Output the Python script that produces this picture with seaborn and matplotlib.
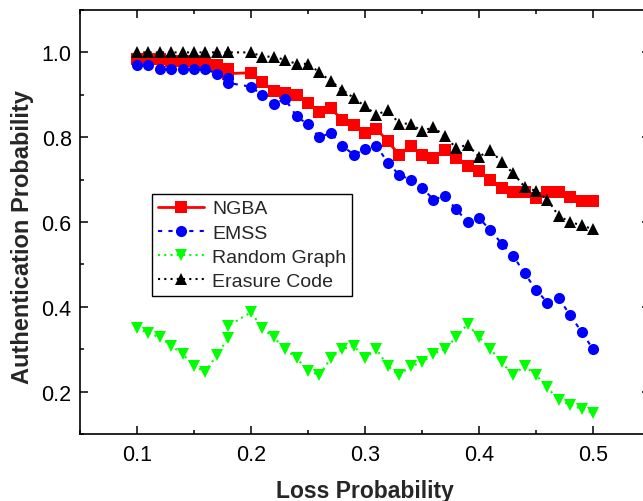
import pandas as pd
import matplotlib
matplotlib.use("Agg")
import matplotlib.pyplot as plt
import seaborn as sns
from matplotlib.ticker import MultipleLocator, FormatStrFormatter

# loss probability (the source data repeats 0.18 where 0.19 would be)
loss = [0.10, 0.11, 0.12, 0.13, 0.14, 0.15, 0.16, 0.17, 0.18, 0.18,
        0.20, 0.21, 0.22, 0.23, 0.24, 0.25, 0.26, 0.27, 0.28, 0.29,
        0.30, 0.31, 0.32, 0.33, 0.34, 0.35, 0.36, 0.37, 0.38, 0.39,
        0.40, 0.41, 0.42, 0.43, 0.44, 0.45, 0.46, 0.47, 0.48, 0.49, 0.50]

ngba = [0.985, 0.985, 0.985, 0.98, 0.98, 0.98, 0.973, 0.971, 0.961, 0.95,
        0.952, 0.929, 0.91, 0.904, 0.90, 0.881, 0.859, 0.869, 0.84, 0.828,
        0.809, 0.82, 0.79, 0.759, 0.779, 0.759, 0.751, 0.769, 0.751, 0.732,
        0.72, 0.70, 0.679, 0.67, 0.67, 0.657, 0.67, 0.67, 0.66, 0.65, 0.65]

emss = [0.971, 0.97, 0.96, 0.96, 0.96, 0.96, 0.96, 0.95, 0.94, 0.928,
        0.919, 0.899, 0.879, 0.89, 0.849, 0.83, 0.80, 0.81, 0.78, 0.759,
        0.771, 0.78, 0.74, 0.711, 0.70, 0.681, 0.653, 0.661, 0.63, 0.60,
        0.61, 0.58, 0.549, 0.52, 0.479, 0.44, 0.41, 0.42, 0.38, 0.341, 0.30]

random_graph = [0.349, 0.338, 0.328, 0.308, 0.289, 0.26, 0.247, 0.286, 0.326, 0.355,
                0.387, 0.349, 0.328, 0.30, 0.279, 0.249, 0.239, 0.279, 0.30, 0.308,
                0.279, 0.30, 0.26, 0.239, 0.26, 0.269, 0.289, 0.30, 0.328, 0.359,
                0.328, 0.30, 0.269, 0.239, 0.26, 0.239, 0.21, 0.179, 0.169, 0.159, 0.15]

erasure = [1.0, 1.0, 1.0, 1.0, 1.0, 1.0, 1.0, 1.0, 1.0, 1.0,
           1.0, 0.99, 0.99, 0.982, 0.973, 0.973, 0.953, 0.932, 0.912, 0.893,
           0.873, 0.853, 0.864, 0.832, 0.832, 0.814, 0.824, 0.802, 0.775, 0.782,
           0.754, 0.77, 0.741, 0.715, 0.683, 0.673, 0.653, 0.614, 0.60, 0.592, 0.583]

sns.set_style("ticks")
plt.rcParams['font.family'] = ['Liberation Sans', 'DejaVu Sans']

fig = plt.figure(figsize=(6.43, 5.02), dpi=100)
ax = fig.add_axes([0.1244, 0.1335, 0.8865, 0.8446])

series = [
    ("NGBA", ngba, "#ff0000", "s", "-", 2.0),
    ("EMSS", emss, "#0000ff", "o", (0, (2, 3)), 1.5),
    ("Random Graph", random_graph, "#00ff00", "v", (0, (1, 2)), 1.5),
    ("Erasure Code", erasure, "black", "^", (0, (1, 2)), 1.5),
]

for name, vals, col, mk, ls, lw in series:
    sns.lineplot(x=loss, y=vals, ax=ax, estimator=None, sort=False,
                 color=col, marker=mk, linestyle=ls, linewidth=lw,
                 markersize=8, markeredgecolor=col, markeredgewidth=0,
                 label=name)

ax.set_xlim(0.05, 0.55)
ax.set_ylim(0.1, 1.1)
ax.xaxis.set_major_locator(MultipleLocator(0.1))
ax.xaxis.set_minor_locator(MultipleLocator(0.05))
ax.yaxis.set_major_locator(MultipleLocator(0.2))
ax.yaxis.set_minor_locator(MultipleLocator(0.1))
ax.xaxis.set_major_formatter(FormatStrFormatter('%.1f'))
ax.yaxis.set_major_formatter(FormatStrFormatter('%.1f'))
ax.set_yticks([0.2, 0.4, 0.6, 0.8, 1.0])

ax.tick_params(which='both', direction='in', top=True, right=True, width=1.1, colors='black')
ax.tick_params(which='major', length=6)
ax.tick_params(which='minor', length=3)
ax.tick_params(axis='x', which='major', labelsize=15.5, pad=7)
ax.tick_params(axis='y', which='major', labelsize=15.5, pad=6)
for sp in ax.spines.values():
    sp.set_linewidth(1.2)
    sp.set_color('black')

ax.set_xlabel("Loss Probability", fontsize=16.5, fontweight='bold', labelpad=10)
ax.set_ylabel("Authentication Probability", fontsize=17, fontweight='bold')
ax.yaxis.set_label_coords(-0.08, 0.467)

leg = ax.legend(loc='upper left', bbox_to_anchor=(0.126, 0.566), borderaxespad=0,
                fontsize=14, fancybox=False, edgecolor='black', framealpha=1,
                handlelength=2.4, handletextpad=0.4, labelspacing=0.34,
                borderpad=0.3, markerscale=1.0)
leg.get_frame().set_linewidth(1.0)

fig.savefig("out.png", dpi=100)
